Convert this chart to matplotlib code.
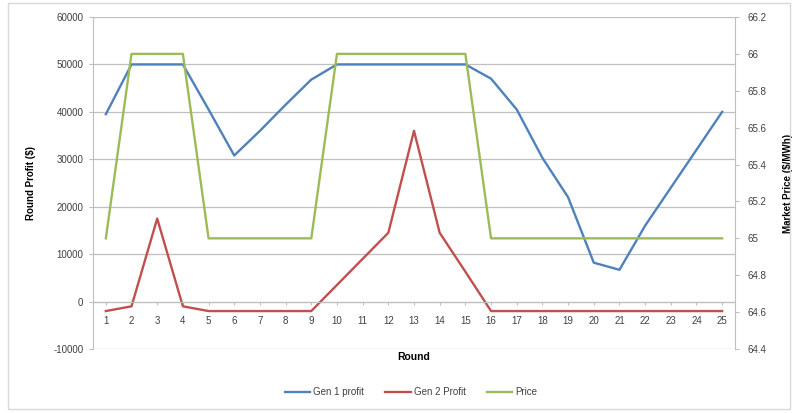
import matplotlib
matplotlib.use("Agg")
import matplotlib.pyplot as plt
from matplotlib.ticker import MultipleLocator, FuncFormatter
from matplotlib.patches import Rectangle

plt.rcParams['font.family'] = ['Liberation Sans', 'DejaVu Sans']
plt.rcParams['axes.unicode_minus'] = False

rounds = list(range(1, 26))
gen1_profit = [39500, 50000, 50000, 50000, 40500, 30800, 36000, 41500, 46800, 50000,
               50000, 50000, 50000, 50000, 50000, 47000, 40500, 30300, 22000, 8200,
               6700, 16000, 24000, 32000, 40000]
gen2_profit = [-2000, -1000, 17500, -1000, -2000, -2000, -2000, -2000, -2000, 3500,
               9000, 14500, 36000, 14500, 6300, -2000, -2000, -2000, -2000, -2000,
               -2000, -2000, -2000, -2000, -2000]
price = [65, 66, 66, 66, 65, 65, 65, 65, 65, 66,
         66, 66, 66, 66, 66, 65, 65, 65, 65, 65,
         65, 65, 65, 65, 65]

C_BLUE = '#4F81BD'
C_RED = '#C0504D'
C_GREEN = '#9BBB59'
GRID = '#BFBFBF'
TXT = '#404040'

fig = plt.figure(figsize=(7.94, 4.13), dpi=100)
fig.patches.append(Rectangle((8 / 794, 0.01), 1 - 12 / 794, 1 - 3 / 413 - 0.01,
                             transform=fig.transFigure, fill=False,
                             edgecolor='#D9D9D9', linewidth=1.0))
ax = fig.add_axes([93 / 794, 1 - 349 / 413, (735 - 93) / 794, (349 - 17) / 413])
ax2 = ax.twinx()

ax.set_xlim(0.5, 25.5)
ax.set_ylim(-10000, 60000)
ax2.set_ylim(64.4, 66.2)

ax.yaxis.set_major_locator(MultipleLocator(10000))
ax.grid(axis='y', color=GRID, linewidth=0.9)
ax.set_axisbelow(True)
ax.set_xticks(rounds)

ax.spines['top'].set_visible(False)
ax.spines['right'].set_visible(False)
ax.spines['left'].set_color(GRID)
ax.spines['bottom'].set_position(('data', 0))
ax.spines['bottom'].set_color(GRID)
for s in ['top', 'left', 'bottom']:
    ax2.spines[s].set_visible(False)
ax2.spines['right'].set_color(GRID)

ax.tick_params(axis='y', labelsize=7, colors=TXT, length=3, color=GRID, pad=4)
ax.tick_params(axis='x', labelsize=7, colors=TXT, length=2, color=GRID, pad=8.5,
               direction='out')
ax2.yaxis.set_major_locator(MultipleLocator(0.2))
ax2.yaxis.set_major_formatter(FuncFormatter(lambda v, p: f"{v:.1f}".rstrip('0').rstrip('.')))
ax2.tick_params(axis='y', labelsize=7, colors=TXT, length=3, color=GRID, pad=6)

l1, = ax.plot(rounds, gen1_profit, color=C_BLUE, linewidth=1.7, label='Gen 1 profit')
l2, = ax.plot(rounds, gen2_profit, color=C_RED, linewidth=1.7, label='Gen 2 Profit')
l3, = ax2.plot(rounds, price, color=C_GREEN, linewidth=1.7, label='Price')

ax.set_ylabel('Round Profit ($)', fontsize=7, fontweight='bold', color='black', labelpad=12)
ax2.set_ylabel('Market Price ($/MWh)', fontsize=7, fontweight='bold', color='black', labelpad=12)
fig.text(414 / 794, 1 - 357 / 413, 'Round', ha='center', va='center',
         fontsize=7.5, fontweight='bold')

fig.legend(handles=[l1, l2, l3], loc='center', bbox_to_anchor=(411 / 794, 1 - 392 / 413),
           ncol=3, frameon=False, fontsize=7, handlelength=2.6, columnspacing=2.2,
           handletextpad=0.3, labelcolor=TXT)

fig.savefig('out.png', dpi=100)
